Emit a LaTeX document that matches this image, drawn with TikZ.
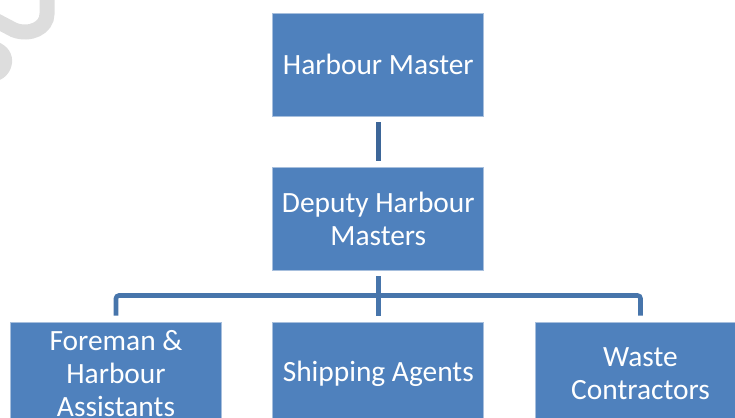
\documentclass[tikz,border=0pt]{standalone}
\usepackage{fontspec}
\setmainfont{Carlito}
\usetikzlibrary{calc}
\definecolor{boxblue}{HTML}{4F81BD}
\definecolor{boxedge}{HTML}{A7BFDD}
\definecolor{connA}{HTML}{3D6698}
\definecolor{connB}{HTML}{4775AB}
\definecolor{wmark}{HTML}{DDDDDD}
\begin{document}
\begin{tikzpicture}[x=1pt,y=-1pt,
  orgbox/.style={rectangle, fill=boxblue, draw=boxedge, line width=0.8pt,
    minimum width=211pt, minimum height=103pt, inner sep=0pt, align=center,
    text=white, font=\fontsize{29.4}{32.8}\selectfont},
  conn/.style={line width=4.6pt, shorten <=6pt, shorten >=6pt}]
\useasboundingbox (0,0) rectangle (735,417);
% watermark fragments
\draw[wmark, line width=15pt] (47,-5) -- (47,14) .. controls (47,28) and (30,36) .. (14,30) -- (-5,20);
\fill[wmark] (-2,42) .. controls (8,46) and (13,54) .. (12,63) .. controls (11,72) and (5,78) .. (-2,81) -- cycle;
% boxes
\node[orgbox] (hm) at (378.3,64.5) {Harbour Master};
\node[orgbox] (dhm) at (378.3,218.5) {Deputy Harbour\\Masters};
\node[orgbox] (fha) at (116,373.5) {Foreman \&\\Harbour\\Assistants};
\node[orgbox] (sa) at (378.3,373.5) {Shipping Agents};
\node[orgbox] (wc) at (640.5,373.5) {Waste\\Contractors};
\coordinate (bus) at (378.3,295.5);
% connectors
\draw[conn, connA] (hm.south) -- (dhm.north);
\draw[conn, connB] (dhm.south) -- (sa.north);
\draw[conn, connB, rounded corners=3pt] (fha.north) |- (bus) -| (wc.north);
\end{tikzpicture}
\end{document}
